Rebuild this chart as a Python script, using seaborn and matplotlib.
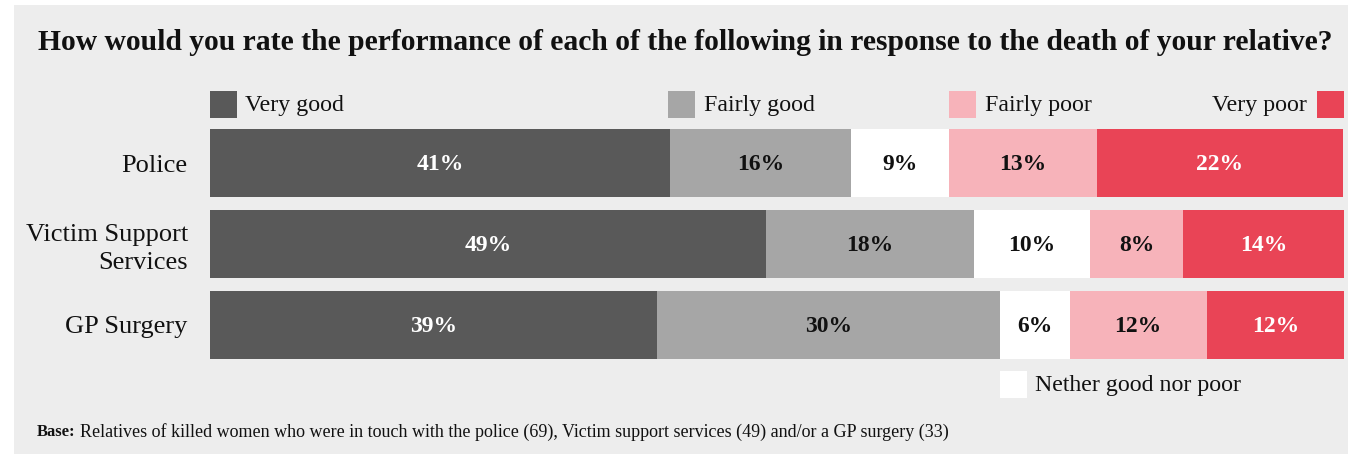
import matplotlib
matplotlib.use("Agg")
import matplotlib.pyplot as plt
import seaborn as sns
import pandas as pd
import numpy as np
from matplotlib.patches import Rectangle

# ---------------- data ----------------
categories = ["Police", "Victim Support\nServices", "GP Surgery"]
ratings = ["Very good", "Fairly good", "Nether good nor poor", "Fairly poor", "Very poor"]
very_good = [40.6, 49.0, 39.4]
fairly_good = [15.9, 18.4, 30.3]
neither = [8.7, 10.2, 6.1]
fairly_poor = [13.0, 8.2, 12.1]
very_poor = [21.7, 14.3, 12.1]
labels_very_good = ["41%", "49%", "39%"]
labels_fairly_good = ["16%", "18%", "30%"]
labels_neither = ["9%", "10%", "6%"]
labels_fairly_poor = ["13%", "8%", "12%"]
labels_very_poor = ["22%", "14%", "12%"]
colors = ["#595959", "#a6a6a6", "#ffffff", "#f7b3ba", "#e94456"]
label_colors = ["white", "#111111", "#111111", "#111111", "white"]
title = "How would you rate the performance of each of the following in response to the death of your relative?"
base_note = "Relatives of killed women who were in touch with the police (69), Victim support services (49) and/or a GP surgery (33)"

series = [very_good, fairly_good, neither, fairly_poor, very_poor]
series_labels = [labels_very_good, labels_fairly_good, labels_neither,
                 labels_fairly_poor, labels_very_poor]

rows = []
for r, vals in zip(ratings, series):
    for c, v in zip(categories, vals):
        rows.append({"category": c, "rating": r, "value": v})
df = pd.DataFrame(rows)
wide = df.pivot(index="category", columns="rating", values="value").loc[categories, ratings]
cum = wide.cumsum(axis=1)

# ---------------- figure ----------------
W, H = 1348, 454
DPI = 100
sns.set_theme(style="white")
plt.rcParams["font.family"] = ["Liberation Serif", "DejaVu Serif"]

fig = plt.figure(figsize=(W / DPI, H / DPI), dpi=DPI, facecolor="white")

def fx(x):
    return x / W

def fy(y):
    return 1 - y / H

# gray panel
fig.add_artist(Rectangle((fx(14), 0), 1 - fx(14), fy(5), transform=fig.transFigure,
                         facecolor="#ededed", edgecolor="none", zorder=-10))

ax = fig.add_axes([fx(210), fy(359), fx(1344) - fx(210), (359 - 129) / H])
ax.set_facecolor("none")

# stacked bars: draw cumulative totals from the outermost inward
for i in range(len(ratings) - 1, -1, -1):
    d = pd.DataFrame({"category": categories, "cum": cum[ratings[i]].values})
    sns.barplot(data=d, x="cum", y="category", orient="h", color=colors[i],
                width=0.84, saturation=1, ax=ax, edgecolor="none", linewidth=0)

ax.set_xlim(0, 100)
ax.set_ylim(2.42, -0.42)
for s in ax.spines.values():
    s.set_visible(False)
ax.set_xticks([])
ax.set_xlabel("")
ax.set_ylabel("")
ax.tick_params(axis="y", length=0, pad=16, labelsize=19)
for t in ax.get_yticklabels():
    t.set_color("#111111")
    t.set_linespacing(1.3)
    t.set_horizontalalignment("right")

# value labels
for i, r in enumerate(ratings):
    starts = cum[r].values - wide[r].values
    for j in range(len(categories)):
        xc = starts[j] + wide[r].values[j] / 2
        ax.text(xc, j + 0.02, series_labels[i][j], ha="center", va="center",
                fontsize=17, fontweight="bold", color=label_colors[i])

# legend (manual, positioned like the reference)
sq = 27
legend_items = [
    (0, 210, 91, 245, "left"),
    (1, 668, 91, 704, "left"),
    (3, 949, 91, 985, "left"),
    (4, 1317, 91, 1307, "right"),
    (2, 1000, 371, 1035, "left"),
]
for idx, sx, sy, tx, ha in legend_items:
    fig.add_artist(Rectangle((fx(sx), fy(sy + sq)), sq / W, sq / H,
                             transform=fig.transFigure, facecolor=colors[idx],
                             edgecolor="none"))
    fig.text(fx(tx), fy(sy + sq / 2 + 1), ratings[idx], ha=ha, va="center",
             fontsize=17.2, color="#111111")

# title
t_title = fig.text(fx(38), fy(42), title, ha="left", va="center",
                   fontsize=20, fontweight="bold", color="#111111")

# footnote
t_base = fig.text(fx(37), fy(432), "Base:", ha="left", va="center",
                  fontsize=12, fontweight="bold", color="#111111")
fig.canvas.draw()
rend = fig.canvas.get_renderer()
# fit title width to reference
bb = t_title.get_window_extent(rend)
t_title.set_fontsize(20 * (1335 - 38) / bb.width)
bbb = t_base.get_window_extent(rend)
t_note = fig.text(fx(37) + (bbb.width + 4) / W, fy(432), base_note, ha="left",
                  va="center", fontsize=11.5, color="#111111")
fig.canvas.draw()
bn = t_note.get_window_extent(rend)
target = 948 - (37 + bbb.width + 4)
t_note.set_fontsize(11.5 * target / bn.width)

fig.savefig("out.png", dpi=DPI, facecolor="white")
